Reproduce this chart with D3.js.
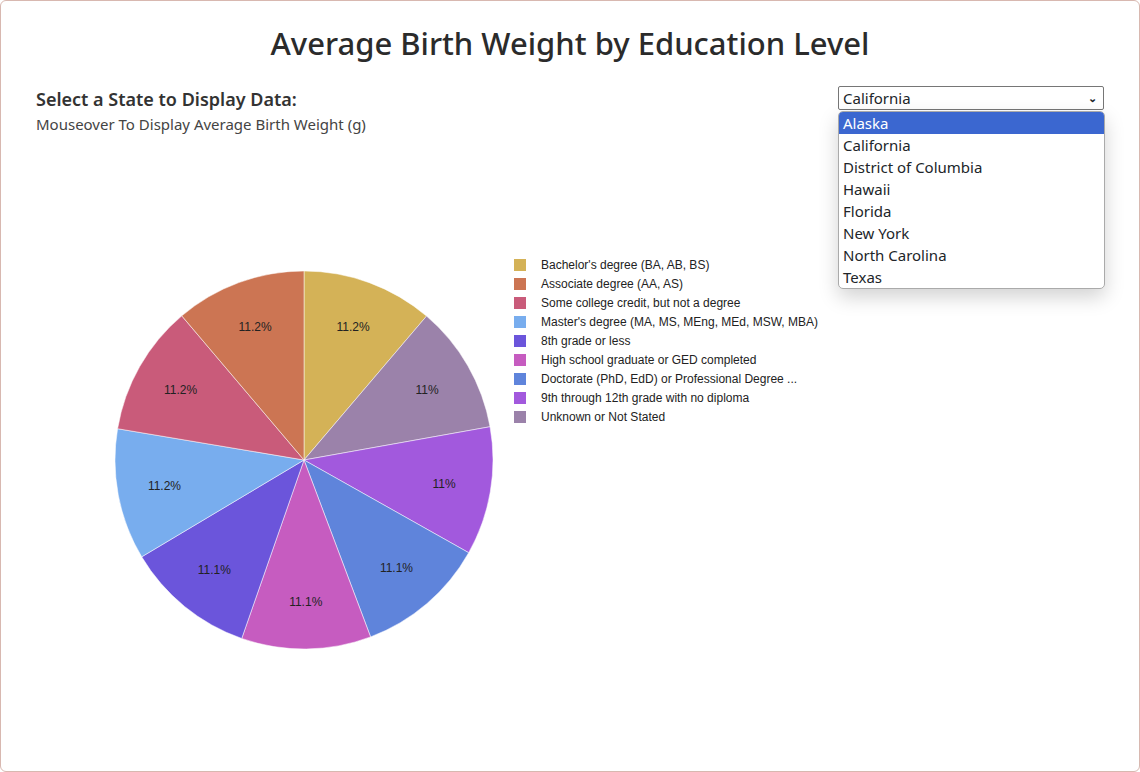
<!DOCTYPE html>
<html>
<head>
<meta charset="utf-8">
<script src="https://cdn.jsdelivr.net/npm/d3@7"></script>
<style>
  body { margin: 0; font-family: "Noto Sans", sans-serif; color: #212529; background: #fff; }
  #frame { position: absolute; left: 0; top: 0; width: 1138px; height: 770px; border: 1px solid #d8b8b0; border-radius: 6px; }
  h1 { position: absolute; top: 22px; width: 1140px; text-align: center; margin: 0; font-size: 31px; font-weight: 500; color: #2b2b2b; }
  #lbl { position: absolute; left: 36px; top: 87px; font-size: 18px; font-weight: 600; color: #333; }
  #sub { position: absolute; left: 36px; top: 114px; font-size: 15px; color: #444; }
  #sel { position: absolute; left: 838px; top: 86px; width: 263px; height: 22px; border: 1px solid #767676; border-radius: 2px; font-size: 15px; line-height: 22px; padding-left: 4px; box-sizing: border-box; width: 266px; height: 24px; }
  #sel span { position: absolute; right: 6px; top: 0; font-size: 11px; font-weight: bold; }
  #list { position: absolute; left: 838px; top: 111px; width: 265px; border: 1px solid #aaa; border-radius: 5px; overflow: hidden; box-shadow: 0 8px 20px rgba(0,0,0,0.18); background: #fff; }
  #list div { height: 22px; line-height: 22px; font-size: 15px; padding-left: 4px; }
  #list div.hi { background: #3b67d0; color: #fff; }
  svg { position: absolute; left: 0; top: 0; }
</style>
</head>
<body>
<div id="frame"></div>
<h1>Average Birth Weight by Education Level</h1>
<div id="lbl">Select a State to Display Data:</div>
<div id="sub">Mouseover To Display Average Birth Weight (g)</div>
<svg id="chart" width="1140" height="772"></svg>
<div id="sel">California<span>&#8964;</span></div>
<div id="list"></div>
<script>
const states = ["Alaska", "California", "District of Columbia", "Hawaii", "Florida", "New York", "North Carolina", "Texas"];
const legendOrder = ["Bachelor's degree (BA, AB, BS)", "Associate degree (AA, AS)", "Some college credit, but not a degree",
  "Master's degree (MA, MS, MEng, MEd, MSW, MBA)", "8th grade or less", "High school graduate or GED completed",
  "Doctorate (PhD, EdD) or Professional Degree (MD, DDS, DVM, LLB, JD)", "9th through 12th grade with no diploma", "Unknown or Not Stated"];
const colors = ["#d4b257", "#cc7553", "#c95b7a", "#78adee", "#6b55db", "#c65cc0", "#5f84db", "#a259dd", "#9b82aa"];
// clockwise from top
const pieOrder = ["Bachelor's degree (BA, AB, BS)", "Unknown or Not Stated", "9th through 12th grade with no diploma",
  "Doctorate (PhD, EdD) or Professional Degree (MD, DDS, DVM, LLB, JD)", "High school graduate or GED completed",
  "8th grade or less", "Master's degree (MA, MS, MEng, MEd, MSW, MBA)", "Some college credit, but not a degree", "Associate degree (AA, AS)"];
const weights = [3330, 3250, 3255, 3295, 3285, 3290, 3325, 3310, 3320];

d3.select("#list").selectAll("div").data(states).join("div")
  .attr("class", (d, i) => i === 0 ? "hi" : null).text(d => d);

const color = d3.scaleOrdinal().domain(legendOrder).range(colors);
const data = pieOrder.map((k, i) => ({ key: k, value: weights[i] }));
const total = d3.sum(data, d => d.value);
const svg = d3.select("#chart");
const r = 189;
const g = svg.append("g").attr("transform", "translate(304,460)");
const arcs = d3.pie().sort(null).value(d => d.value)(data);
const arc = d3.arc().innerRadius(0).outerRadius(r);
const labelArc = d3.arc().innerRadius(142).outerRadius(142);
g.selectAll("path").data(arcs).join("path")
  .attr("d", arc).attr("fill", d => color(d.data.key)).attr("stroke", "#fff").attr("stroke-width", 0.5);
g.selectAll("text").data(arcs).join("text")
  .attr("transform", d => `translate(${labelArc.centroid(d)})`)
  .attr("text-anchor", "middle").attr("dy", "0.35em")
  .attr("font-family", "Arial, Liberation Sans").attr("font-size", 12).attr("fill", "#222")
  .text(d => (Math.round(d.data.value / total * 1000) / 10) + "%");

const lg = svg.append("g").attr("transform", "translate(514,259)");
const rows = lg.selectAll("g").data(legendOrder).join("g").attr("transform", (d, i) => `translate(0,${i * 19})`);
rows.append("rect").attr("width", 12).attr("height", 12).attr("fill", d => color(d));
rows.append("text").attr("x", 27).attr("y", 10).attr("font-family", "Arial, Liberation Sans").attr("font-size", 12).attr("fill", "#222")
  .text(d => d.length > 45 ? d.slice(0, 44) + "..." : d);
</script>
</body>
</html>
